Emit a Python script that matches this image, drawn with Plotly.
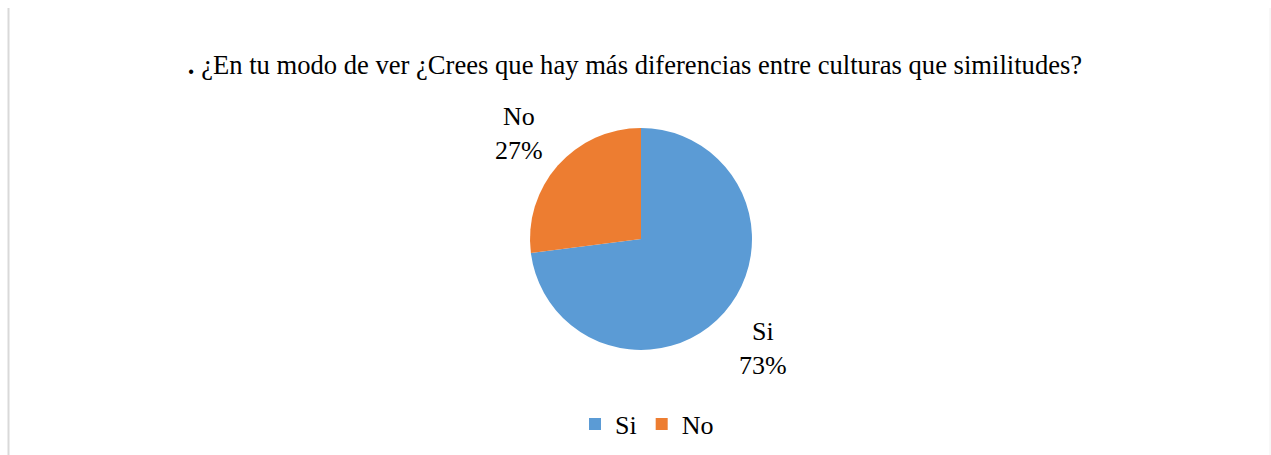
import math
import plotly.graph_objects as go

labels = ["Si", "No"]
values = [73, 27]
colors = ["#5b9bd5", "#ed7d31"]
title_text = "<b>.</b> ¿En tu modo de ver ¿Crees que hay más diferencias entre culturas que similitudes?"

W, H = 1271, 455
font = "Liberation Serif, Times New Roman, serif"

# pie geometry (pixels)
CX, CY, R = 641, 239, 111

fig = go.Figure(go.Pie(
    labels=labels,
    values=values,
    sort=False,
    direction="clockwise",
    rotation=0,
    marker=dict(colors=colors, line=dict(width=0)),
    textinfo="none",
    hoverinfo="label+percent",
    domain=dict(x=[(CX - R) / W, (CX + R) / W], y=[1 - (CY + R) / H, 1 - (CY - R) / H]),
))

# outside data labels placed along each slice's mid-angle
total = sum(values)
annotations = []
cum = 0
for lab, v in zip(labels, values):
    mid = (cum + v / 2) / total * 2 * math.pi
    cum += v
    dist = 1.47 * R
    px = CX + dist * math.sin(mid)
    py = CY - dist * math.cos(mid)
    annotations.append(dict(
        text=f"{lab}<br>{round(v / total * 100)}%", x=px / W, y=1 - (py + 2) / H,
        xref="paper", yref="paper", xanchor="center", yanchor="middle",
        showarrow=False, font=dict(family=font, size=26, color="#000000"),
    ))

fig.update_layout(
    width=W, height=H,
    margin=dict(l=0, r=0, t=0, b=0),
    paper_bgcolor="white",
    plot_bgcolor="white",
    title=dict(text=title_text, x=635 / W, xanchor="center", y=1 - 65 / H, yanchor="middle",
               font=dict(family=font, size=26.6, color="#000000")),
    showlegend=True,
    legend=dict(orientation="h", x=647 / W, xanchor="center", y=1 - 424 / H, yanchor="middle",
                font=dict(family=font, size=26, color="#000000"), itemwidth=30),
    annotations=annotations,
    shapes=[
        dict(type="line", xref="paper", yref="paper", x0=8.5 / W, x1=8.5 / W, y0=0, y1=1 - 8 / H,
             line=dict(color="#d9d9d9", width=2)),
        dict(type="line", xref="paper", yref="paper", x0=1270 / W, x1=1270 / W, y0=0, y1=1 - 8 / H,
             line=dict(color="#f0f0f0", width=1)),
    ],
)

fig.write_html("out.html", config={"displayModeBar": False},
               post_script="document.body.style.margin='0';")
